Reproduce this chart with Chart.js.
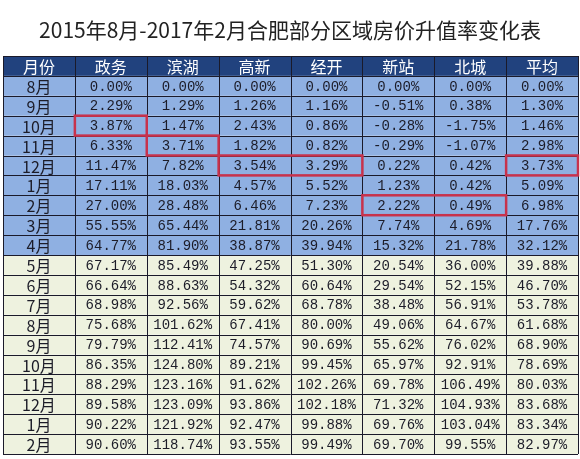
<!DOCTYPE html>
<html><head><meta charset="utf-8">
<script src="https://cdn.jsdelivr.net/npm/chart.js@4/dist/chart.umd.min.js"></script>
<style>html,body{margin:0;background:#fff}#wrap{width:580px;height:459px}</style>
</head><body><div id="wrap"><canvas id="c"></canvas></div>
<script>
// 2015年8月-2017年2月 合肥各区域房价升值率
const title = '2015年8月-2017年2月合肥部分区域房价升值率变化表';
const headers = ['月份','政务','滨湖','高新','经开','新站','北城','平均'];
const months = ['8月','9月','10月','11月','12月','1月','2月','3月','4月','5月','6月','7月','8月','9月','10月','11月','12月','1月','2月'];
const zhengwu = [0.00,2.29,3.87,6.33,11.47,17.11,27.00,55.55,64.77,67.17,66.64,68.98,75.68,79.79,86.35,88.29,89.58,90.22,90.60];
const binhu   = [0.00,1.29,1.47,3.71,7.82,18.03,28.48,65.44,81.90,85.49,88.63,92.56,101.62,112.41,124.80,123.16,123.09,121.92,118.74];
const gaoxin  = [0.00,1.26,2.43,1.82,3.54,4.57,6.46,21.81,38.87,47.25,54.32,59.62,67.41,74.57,89.21,91.62,93.86,92.47,93.55];
const jingkai = [0.00,1.16,0.86,0.82,3.29,5.52,7.23,20.26,39.94,51.30,60.64,68.78,80.00,90.69,99.45,102.26,102.18,99.88,99.49];
const xinzhan = [0.00,-0.51,-0.28,-0.29,0.22,1.23,2.22,7.74,15.32,20.54,29.54,38.48,49.06,55.62,65.97,69.78,71.32,69.76,69.70];
const beicheng= [0.00,0.38,-1.75,-1.07,0.42,0.42,0.49,4.69,21.78,36.00,52.15,56.91,64.67,76.02,92.91,106.49,104.93,103.04,99.55];
const pingjun = [0.00,1.30,1.46,2.98,3.73,5.09,6.98,17.76,32.12,39.88,46.70,53.78,61.68,68.90,78.69,80.03,83.68,83.34,82.97];
const series = [zhengwu,binhu,gaoxin,jingkai,xinzhan,beicheng,pingjun];
const blueRows = 9; // 第一段 (2015年) 蓝底
// 红框: [行, 起始列, 结束列]
const marks = [[2,1,1],[3,2,2],[4,3,4],[4,7,7],[6,5,6]];

const cellPoints = [];
months.forEach((m,r)=>{ for(let c=0;c<8;c++) cellPoints.push({x:c+0.5,y:r+1.5}); });

const tablePlugin = {
  id:'table',
  beforeDatasetsDraw(chart){
    const {ctx, scales:{x,y}} = chart;
    const X = v=>x.getPixelForValue(v), Y = v=>y.getPixelForValue(v);
    ctx.save();
    // title
    ctx.fillStyle = '#222';
    ctx.font = '21px "Noto Sans CJK SC"';
    ctx.textAlign = 'center'; ctx.textBaseline = 'middle';
    ctx.fillText(title, 290, 30);
    const nRows = months.length + 1;
    // backgrounds
    for(let r=0;r<nRows;r++){
      ctx.fillStyle = r===0 ? '#21427e' : (r<=blueRows ? '#8fb0e2' : '#eef2df');
      ctx.fillRect(X(0), Y(r), X(8)-X(0), Y(r+1)-Y(r));
    }
    // grid
    ctx.strokeStyle = '#1a1a2a'; ctx.lineWidth = 1;
    for(let r=0;r<=nRows;r++){ const p=Math.round(Y(r))+0.5; ctx.beginPath(); ctx.moveTo(X(0),p); ctx.lineTo(X(8),p); ctx.stroke(); }
    for(let c=0;c<=8;c++){ const p=Math.round(X(c))+0.5; ctx.beginPath(); ctx.moveTo(p,Y(0)); ctx.lineTo(p,Y(nRows)); ctx.stroke(); }
    // header
    ctx.fillStyle = '#fff'; ctx.font = '16px "Noto Sans CJK SC"';
    headers.forEach((h,c)=> ctx.fillText(h, X(c+0.5), Y(0.5)+1));
    // body
    months.forEach((m,r)=>{
      ctx.fillStyle = '#1c1c28';
      ctx.font = '16px "Noto Sans CJK SC"';
      ctx.fillText(m, X(0.5), Y(r+1.5)+1);
      ctx.font = '14px "Liberation Mono"';
      series.forEach((s,c)=> ctx.fillText(s[r].toFixed(2)+'%', X(c+1.5), Y(r+1.5)+1));
    });
    // red boxes
    ctx.strokeStyle = '#c8324c'; ctx.lineWidth = 2.5;
    marks.forEach(([r,c0,c1])=> ctx.strokeRect(X(c0), Y(r+1), X(c1+1)-X(c0), Y(r+2)-Y(r+1)));
    ctx.restore();
  }
};

new Chart(document.getElementById('c'), {
  type:'scatter',
  data:{datasets:[{data:cellPoints, pointRadius:0}]},
  options:{
    responsive:true, maintainAspectRatio:false, animation:false,
    layout:{padding:{left:3,right:2,top:56,bottom:5}},
    plugins:{legend:{display:false}, tooltip:{enabled:false}},
    scales:{
      x:{type:'linear', min:0, max:8, display:false},
      y:{type:'linear', min:0, max:months.length+1, reverse:true, display:false}
    }
  },
  plugins:[tablePlugin]
});
</script></body></html>
